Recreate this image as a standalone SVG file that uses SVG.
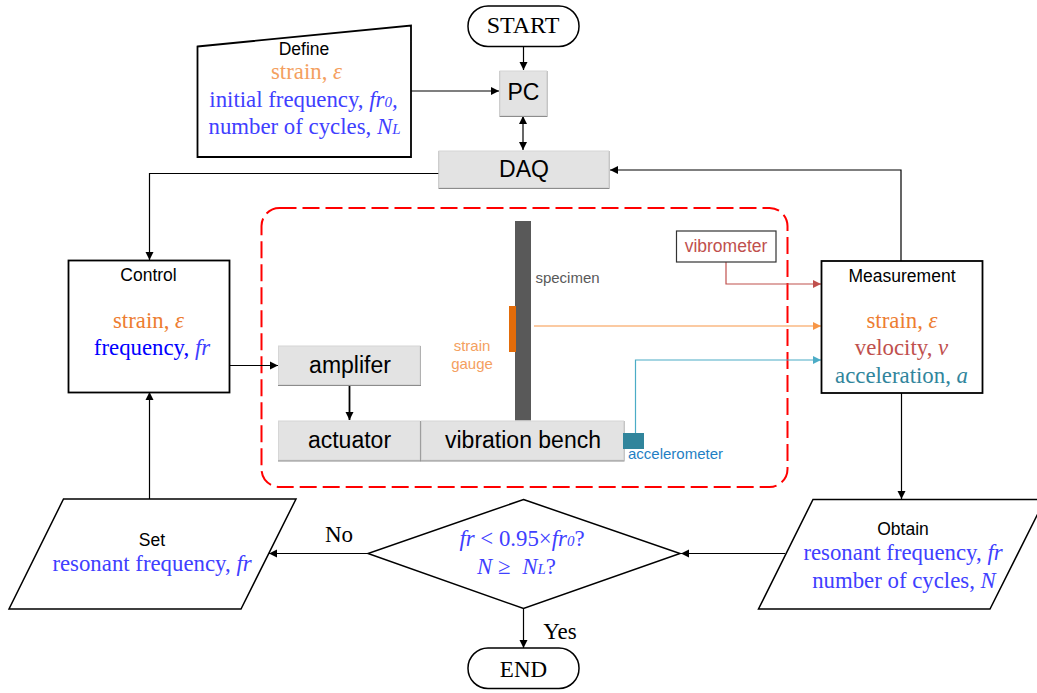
<svg xmlns="http://www.w3.org/2000/svg" width="1037" height="693" viewBox="0 0 1037 693">
<style>
.sans{font-family:"Liberation Sans",Arial,sans-serif}
.serif{font-family:"Liberation Serif","Times New Roman",serif}
text{text-anchor:middle}
.i{font-style:italic}
.sub{font-size:15px}
.s23{font-size:23px}.s225{font-size:22.800px}.s24{font-size:24px}.s17{font-size:17.500px}.s15{font-size:15px}
.blue{fill:#4040ff}.orange{fill:#f4a060}.dorange{fill:#ed7d31}.red{fill:#c0504d}.teal{fill:#31859c}
.out{fill:#fff;stroke:#000;stroke-width:1.800}
.thin{fill:#fff;stroke:#000;stroke-width:1.500}
.box{fill:#e3e3e3;stroke:#d6d6d6;stroke-width:1}
.shade{fill:#8c8c8c}
.c{fill:none;stroke:#000;stroke-width:1.200}
</style>
<defs>
<marker id="a" markerUnits="userSpaceOnUse" markerWidth="10" markerHeight="10" refX="9" refY="5" orient="auto-start-reverse"><path d="M1 1L9 5L1 9z" fill="#000"/></marker>
<marker id="ar" markerUnits="userSpaceOnUse" markerWidth="10" markerHeight="10" refX="9" refY="5" orient="auto"><path d="M1 1L9 5L1 9z" fill="#c0504d"/></marker>
<marker id="ao" markerUnits="userSpaceOnUse" markerWidth="10" markerHeight="10" refX="9" refY="5" orient="auto"><path d="M1 1L9 5L1 9z" fill="#f79646"/></marker>
<marker id="at" markerUnits="userSpaceOnUse" markerWidth="10" markerHeight="10" refX="9" refY="5" orient="auto"><path d="M1 1L9 5L1 9z" fill="#4bacc6"/></marker>
</defs>

<rect id="boundary" x="261.500" y="208" width="526" height="279" rx="18" fill="none" stroke="#f00" stroke-width="2" stroke-dasharray="17 6"/>

<g id="connectors">
<path class="c" marker-end="url(#a)" d="M523.500 46V70"/>
<path class="c" marker-end="url(#a)" d="M411 91H499"/>
<path class="c" marker-start="url(#a)" marker-end="url(#a)" d="M523 116V150"/>
<path class="c" marker-end="url(#a)" d="M439 173.500H149.500V260"/>
<path class="c" marker-end="url(#a)" d="M901 261V170H610"/>
<path class="c" marker-end="url(#a)" d="M229 365.500H278"/>
<path class="c" style="stroke-width:1.800" marker-end="url(#a)" d="M349.500 386V420"/>
<path class="c" marker-end="url(#a)" d="M149.500 499V392"/>
<path class="c" marker-end="url(#a)" d="M901.500 393V499"/>
<path class="c" marker-end="url(#a)" d="M785 553.500H681"/>
<path class="c" marker-end="url(#a)" d="M368 553.500H269"/>
<path class="c" marker-end="url(#a)" d="M523.500 608V648"/>
<path fill="none" stroke="#c0504d" stroke-width="1.200" marker-end="url(#ar)" d="M726 262V284H821"/>
<path fill="none" stroke="#f79646" stroke-width="1.200" marker-end="url(#ao)" d="M534 326H821"/>
<path fill="none" stroke="#4bacc6" stroke-width="1.200" marker-end="url(#at)" d="M635.500 433V360H821"/>
</g>

<g id="start"><rect class="thin" x="468" y="6" width="111" height="40.500" rx="20"/><text class="serif s24" x="523" y="33">START</text></g>
<g id="end"><rect class="thin" x="468" y="648" width="111" height="40.500" rx="20"/><text class="serif s23" x="523.500" y="677">END</text></g>

<g id="define"><path class="out" d="M197.500 46.500L411 25.500V157H197.500z"/>
<text class="sans s17" x="304" y="54.500">Define</text>
<text class="serif s225 orange" x="306.500" y="79">strain, <tspan class="i">ε</tspan></text>
<text class="serif s225 blue" x="303.500" y="107">initial frequency, <tspan class="i">fr</tspan><tspan class="i sub">0</tspan><tspan class="i">,</tspan></text>
<text class="serif s225 blue" x="304.500" y="134">number of cycles, <tspan class="i">N</tspan><tspan class="i sub">L</tspan></text></g>

<g id="pc"><rect class="shade" x="499.500" y="71" width="48" height="46"/><rect class="box" x="500" y="71" width="46.500" height="44.500"/><text class="sans s23" x="523.500" y="100">PC</text></g>
<g id="daq"><rect class="shade" x="438.500" y="151" width="171" height="38"/><rect class="box" x="439" y="151" width="169.500" height="36.500"/><text class="sans s23" x="524" y="177">DAQ</text></g>

<g id="control"><rect class="out" x="68.500" y="260.500" width="161" height="132"/>
<text class="sans s17" x="148.500" y="280.500">Control</text>
<text class="serif s225 dorange" x="148.500" y="328">strain, <tspan class="i">ε</tspan></text>
<text class="serif s225" fill="#0000ff" x="152" y="355">frequency, <tspan class="i" fill="#4040ff">fr</tspan></text></g>

<g id="measurement"><rect class="out" x="821.500" y="261" width="161" height="132"/>
<text class="sans s17" x="902" y="281.500">Measurement</text>
<text class="serif s225 dorange" x="902" y="328">strain, <tspan class="i">ε</tspan></text>
<text class="serif s225 red" x="901.500" y="355">velocity, <tspan class="i">v</tspan></text>
<text class="serif s225 teal" x="901.500" y="383">acceleration, <tspan class="i">a</tspan></text></g>

<g id="specimen"><rect x="515" y="221" width="16" height="199.500" fill="#595959"/><text class="sans s15" x="567.500" y="283" fill="#595959">specimen</text></g>
<g id="strain-gauge"><rect x="509" y="306" width="7" height="46" fill="#e36c0a"/>
<text class="sans s15 orange" x="472" y="351">strain</text><text class="sans s15 orange" x="472" y="369">gauge</text></g>

<g id="vibrometer"><rect x="676.500" y="231" width="99.500" height="31" fill="#fff" stroke="#333" stroke-width="1.200"/><text class="sans s17 red" x="726" y="252">vibrometer</text></g>

<g id="amplifer"><rect class="shade" x="278" y="346" width="143" height="40"/><rect class="box" x="278.500" y="346" width="141.500" height="38.500"/><text class="sans s23" x="350" y="373">amplifer</text></g>
<g id="actuator"><rect class="shade" x="278" y="421" width="143" height="40.500"/><rect class="box" x="278.500" y="421" width="141.500" height="39"/><text class="sans s23" x="349.500" y="448">actuator</text></g>
<g id="vibration-bench"><rect class="shade" x="420.500" y="421" width="204" height="40.500"/><rect class="box" x="421.500" y="421" width="202" height="39"/><text class="sans s23" x="523" y="448">vibration bench</text></g>
<g id="accelerometer"><rect x="623" y="433" width="21" height="16" fill="#31859c"/><text class="sans s15" fill="#1f7fc4" x="675.500" y="459">accelerometer</text></g>

<g id="set"><path class="thin" d="M63.500 499H296L241 609H9z"/>
<text class="sans s17" x="152" y="545.500">Set</text>
<text class="serif s225 blue" x="152" y="571">resonant frequency, <tspan class="i">fr</tspan></text></g>

<g id="decision"><path class="thin" d="M523.500 499.500L680 553.500L523.500 608.500L368 553.500z"/>
<text class="serif s225 blue" x="522" y="546">
<tspan class="i">fr</tspan> &lt; 0.95×<tspan class="i">fr</tspan><tspan class="i sub">0</tspan>?</text>
<text class="serif s225 blue" x="516.500" y="574"><tspan class="i">N</tspan> ≥<tspan dx="6"> </tspan><tspan class="i">N</tspan><tspan class="i sub">L</tspan>?</text></g>

<g id="obtain"><path class="thin" d="M813 499.500H1045L990 609H758.500z"/>
<text class="sans s17" x="903" y="534.500">Obtain</text>
<text class="serif s225 blue" x="903" y="560">resonant frequency, <tspan class="i">fr</tspan></text>
<text class="serif s225 blue" x="904" y="588">number of cycles, <tspan class="i">N</tspan></text></g>

<text class="serif s23" x="339" y="542">No</text>
<text class="serif s23" x="560" y="639">Yes</text>
</svg>
